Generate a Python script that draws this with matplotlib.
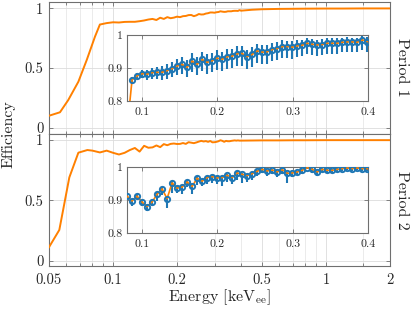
import numpy as np
import matplotlib
matplotlib.use("Agg")
import matplotlib.pyplot as plt
from matplotlib.ticker import FixedLocator, FixedFormatter, NullFormatter

plt.rcParams['font.family'] = ['cmr10', 'DejaVu Serif']
plt.rcParams['mathtext.fontset'] = 'cm'
plt.rcParams['axes.unicode_minus'] = False

ORANGE = '#FF8000'
BLUE = '#1F77B4'
FRAME = '#6f6f6f'

# ---- inset bin centres (keV_ee) ----
E_bins = [0.0800, 0.0867, 0.0933, 0.1000, 0.1066, 0.1133, 0.1199, 0.1266, 0.1332,
          0.1399, 0.1465, 0.1532, 0.1598, 0.1665, 0.1731, 0.1798, 0.1864, 0.1931,
          0.1997, 0.2064, 0.2130, 0.2197, 0.2263, 0.2330, 0.2396, 0.2463, 0.2529,
          0.2596, 0.2662, 0.2729, 0.2795, 0.2862, 0.2928, 0.2995, 0.3061, 0.3128,
          0.3194, 0.3261, 0.3327, 0.3394, 0.3460, 0.3527, 0.3593, 0.3660, 0.3726,
          0.3793, 0.3859, 0.3926, 0.3992]

# ---- Period 1 ----
p1_eff = [0.864, 0.876, 0.883, 0.881, 0.886, 0.887, 0.887, 0.892, 0.898, 0.906,
          0.911, 0.902, 0.921, 0.911, 0.926, 0.917,
          0.922, 0.930, 0.926, 0.934, 0.936, 0.943, 0.944, 0.934, 0.941, 0.952,
          0.948, 0.949, 0.956, 0.959, 0.965, 0.965,
          0.963, 0.967, 0.969, 0.975, 0.972, 0.970, 0.971, 0.975, 0.975, 0.975,
          0.978, 0.979, 0.979, 0.978, 0.985, 0.980]
p1_lo = [0.008, 0.010, 0.013, 0.016, 0.018, 0.020, 0.022, 0.024, 0.026, 0.028, 0.030, 0.030,
         0.032, 0.032, 0.034, 0.034, 0.035, 0.036, 0.036, 0.037, 0.037, 0.037, 0.038, 0.038,
         0.038, 0.037, 0.037, 0.037, 0.036, 0.036, 0.036, 0.035, 0.035, 0.035, 0.034, 0.034,
         0.033, 0.033, 0.033, 0.032, 0.032, 0.032, 0.031, 0.031, 0.030, 0.030, 0.030, 0.030]
p1_hi = [0.008, 0.010, 0.012, 0.014, 0.015, 0.016, 0.018, 0.019, 0.020, 0.021, 0.022, 0.022,
         0.023, 0.023, 0.024, 0.024, 0.024, 0.024, 0.024, 0.024, 0.023, 0.023, 0.023, 0.022,
         0.022, 0.021, 0.021, 0.020, 0.020, 0.019, 0.019, 0.018, 0.018, 0.018, 0.017, 0.017,
         0.016, 0.016, 0.016, 0.015, 0.015, 0.015, 0.014, 0.014, 0.013, 0.013, 0.013, 0.013]
p1_low_E = [0.050, 0.0563, 0.0616, 0.0687, 0.0752, 0.0822]
p1_low_eff = [0.100, 0.129, 0.232, 0.385, 0.567, 0.762]
p1_tail_E = [0.45, 0.50, 0.60, 0.70, 0.80, 1.00, 1.20, 1.50, 2.00]
p1_tail_eff = [0.988, 0.992, 0.995, 0.996, 0.997, 0.998, 0.998, 0.999, 0.999]

# ---- Period 2 ----
p2_eff = [0.912, 0.897, 0.912, 0.894, 0.880, 0.894, 0.917, 0.934, 0.904, 0.952,
          0.936, 0.939, 0.955, 0.941, 0.966, 0.957, 0.968,
          0.971, 0.967, 0.968, 0.975, 0.968, 0.982, 0.978, 0.974, 0.980, 0.987,
          0.993, 0.988, 0.991, 0.985, 0.992, 0.981,
          0.982, 0.985, 0.990, 0.998, 0.993, 0.985, 0.993, 0.990, 0.990, 0.993,
          0.995, 0.997, 0.995, 0.997, 0.995, 0.995]
p2_lo = [0.008, 0.015, 0.008, 0.012, 0.012, 0.012, 0.020, 0.020, 0.028, 0.030,
         0.015, 0.020, 0.015, 0.022, 0.020, 0.015, 0.020, 0.020, 0.020, 0.025,
         0.020, 0.020, 0.020, 0.025, 0.020, 0.020, 0.015, 0.012, 0.015, 0.012,
         0.015, 0.012, 0.030, 0.012, 0.010, 0.010, 0.005, 0.010, 0.012, 0.008,
         0.008, 0.008, 0.008, 0.006, 0.006, 0.006, 0.005, 0.006, 0.006]
p2_hi = [0.006, 0.006, 0.006, 0.006, 0.006, 0.006, 0.006, 0.006, 0.006, 0.006,
         0.006, 0.006, 0.006, 0.006, 0.006, 0.006, 0.006, 0.005, 0.005, 0.005,
         0.005, 0.005, 0.005, 0.005, 0.005, 0.005, 0.004, 0.004, 0.004, 0.004,
         0.004, 0.004, 0.004, 0.004, 0.004, 0.004, 0.002, 0.003, 0.004, 0.003,
         0.003, 0.003, 0.003, 0.003, 0.002, 0.002, 0.002, 0.002, 0.002]
p2_low_E = [0.050, 0.0559, 0.0623, 0.0687, 0.0757]
p2_low_eff = [0.111, 0.254, 0.690, 0.895, 0.917]
p2_tail_E = [0.45, 0.50, 0.60, 0.70, 0.80, 1.00, 1.20, 1.50, 2.00]
p2_tail_eff = [0.996, 0.997, 0.997, 0.998, 0.998, 0.999, 0.999, 0.999, 0.999]

main_xticks = [0.05, 0.1, 0.2, 0.5, 1, 2]
main_xticklabels = ['0.05', '0.1', '0.2', '0.5', '1', '2']
main_xminor = [0.06, 0.07, 0.08, 0.09, 0.3, 0.4, 0.6, 0.7, 0.8, 0.9, 1.5]
main_yticks = [0, 0.5, 1]
main_yticklabels = ['0', '0.5', '1']
inset_xticks = [0.1, 0.2, 0.3, 0.4]
inset_xticklabels = ['0.1', '0.2', '0.3', '0.4']
inset_yticks = [0.8, 0.9, 1.0]
inset_yticklabels = ['0.8', '0.9', '1']

fig = plt.figure(figsize=(4.15, 3.10), dpi=100)
W, H = 415.0, 310.0


def px_axes(l, t, r, b):
    return fig.add_axes([l / W, 1 - b / H, (r - l) / W, (b - t) / H])


def style(ax, fs):
    for s in ax.spines.values():
        s.set_color(FRAME)
        s.set_linewidth(0.8)
    ax.tick_params(which='both', direction='in', top=True, right=True,
                   color=FRAME, labelcolor='#262626', labelsize=fs, width=0.6)
    ax.tick_params(which='major', length=3.0)
    ax.tick_params(which='minor', length=2.0)


def main_panel(ax, E, eff, ylim):
    ax.plot(E, eff, color=ORANGE, lw=1.4, zorder=3)
    ax.set_xscale('log')
    ax.set_xlim(0.05, 2)
    ax.set_ylim(*ylim)
    ax.xaxis.set_major_locator(FixedLocator(main_xticks))
    ax.xaxis.set_major_formatter(FixedFormatter(main_xticklabels))
    ax.xaxis.set_minor_locator(FixedLocator(main_xminor))
    ax.xaxis.set_minor_formatter(NullFormatter())
    ax.set_yticks(main_yticks)
    ax.set_yticklabels(main_yticklabels)
    ax.grid(True, which='major', color='#dcdcdc', lw=0.6)
    ax.grid(True, which='minor', axis='x', color='#e8e8e8', lw=0.6)
    ax.set_axisbelow(True)
    style(ax, 10.5)
    ax.tick_params(axis='y', pad=4)
    ax.tick_params(axis='x', pad=5)


def inset_panel(ax, Ex, eff, lo, hi, E_line, eff_line):
    ax.errorbar(Ex, eff, yerr=[lo, hi], fmt='none', ecolor=BLUE, elinewidth=1.5,
                capsize=0, zorder=3)
    ax.plot(E_line, eff_line, color=ORANGE, lw=1.2, zorder=4)
    ax.plot(Ex, eff, 'o', ms=3.8, mfc='none', mec=BLUE, mew=1.4, zorder=5)
    ax.set_xlim(0.08, 0.4)
    ax.set_ylim(0.8, 1.0)
    ax.set_xticks(inset_xticks)
    ax.set_xticklabels(inset_xticklabels)
    ax.set_yticks(inset_yticks)
    ax.set_yticklabels(inset_yticklabels)
    ax.grid(True, color='#e3e3e3', lw=0.6)
    ax.set_axisbelow(True)
    style(ax, 8.5)
    ax.tick_params(axis='x', pad=5)
    ax.tick_params(axis='y', pad=3)


p1_E_all = p1_low_E + E_bins[1:] + p1_tail_E
p1_eff_all = p1_low_eff + p1_eff + p1_tail_eff
p2_E_all = p2_low_E + E_bins + p2_tail_E
p2_eff_all = p2_low_eff + p2_eff + p2_tail_eff

ax1 = px_axes(49, 1.5, 390, 134)
main_panel(ax1, p1_E_all, p1_eff_all, (-0.053, 1.057))
ax1.tick_params(axis='x', labelbottom=False)

ax2 = px_axes(49, 134, 390, 266)
main_panel(ax2, p2_E_all, p2_eff_all, (-0.045, 1.05))

in1 = px_axes(127, 35, 368, 101)
inset_panel(in1, E_bins[1:], p1_eff, p1_lo, p1_hi, p1_E_all, p1_eff_all)
in2 = px_axes(127, 167, 368, 233)
inset_panel(in2, E_bins, p2_eff, p2_lo, p2_hi, p2_E_all, p2_eff_all)

fig.text(219.5 / W, 1 - 297 / H, 'Energy [keV$_{\\rm ee}$]', ha='center', va='center',
         fontsize=11.5, color='#262626')
fig.text(9 / W, 1 - 134 / H, 'Efficiency', rotation=90, ha='center', va='center',
         fontsize=11.5, color='#262626')
fig.text(402 / W, 1 - 67 / H, 'Period 1', rotation=-90, ha='center', va='center',
         fontsize=11.5, color='#262626')
fig.text(402 / W, 1 - 200 / H, 'Period 2', rotation=-90, ha='center', va='center',
         fontsize=11.5, color='#262626')

fig.savefig('out.png', dpi=100)
